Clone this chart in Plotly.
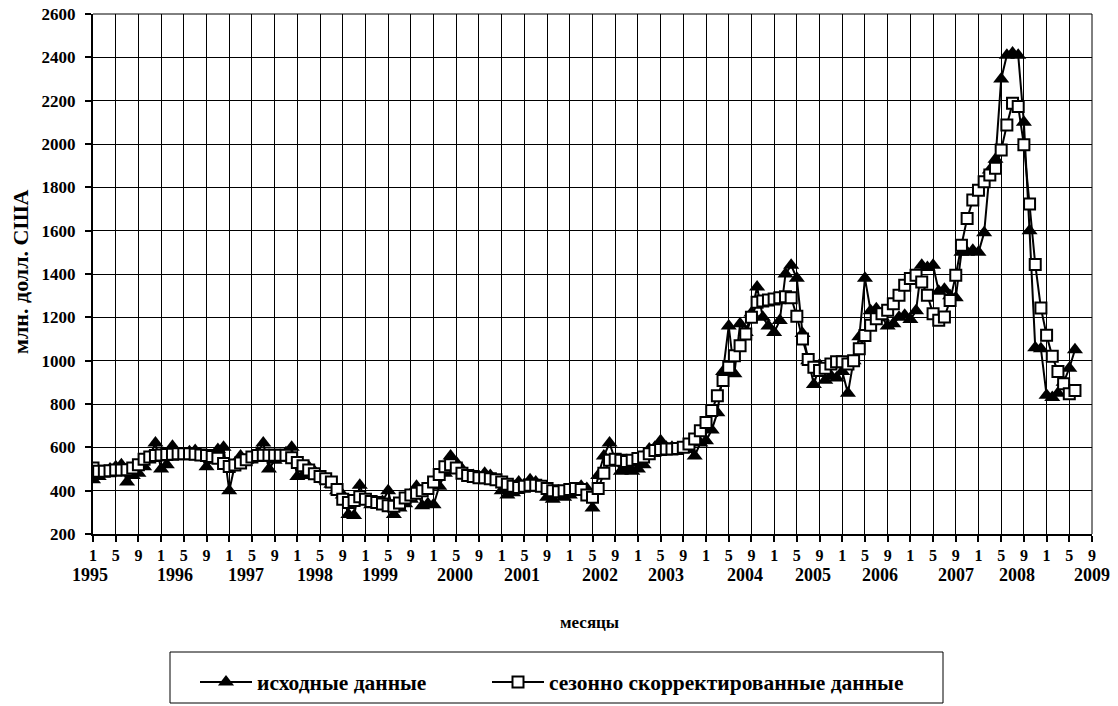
import plotly.graph_objects as go

# ---------------- data ----------------
years = list(range(1995, 2010))
month_ticks = ["1", "5", "9"]

# monthly values, Jan 1995 .. Jun 2009 (млн. долл. США)
original = [
    450, 465, 480, 500, 510, 520, 440, 470, 480, 510, 560, 620,      # 1995
    500, 520, 605, 560, 570, 580, 585, 560, 510, 540, 590, 600,      # 1996
    400, 520, 560, 540, 555, 575, 620, 500, 540, 560, 575, 600,      # 1997
    465, 470, 510, 490, 465, 450, 430, 400, 380, 290, 285, 425,      # 1998
    350, 335, 340, 350, 400, 290, 320, 340, 360, 420, 330, 340,      # 1999
    335, 420, 480, 560, 530, 500, 470, 470, 460, 480, 470, 450,      # 2000
    400, 380, 390, 440, 430, 450, 440, 420, 370, 360, 380, 370,      # 2001
    380, 400, 420, 410, 320, 470, 560, 620, 540, 490, 500, 490,      # 2002
    500, 520, 592, 600, 630, 600, 600, 590, 600, 590, 560, 620,      # 2003
    630, 680, 760, 950, 1160, 940, 1170, 1130, 1220, 1340, 1200, 1160,  # 2004
    1130, 1185, 1400, 1440, 1380, 1125, 1000, 890, 980, 910, 930, 920,  # 2005
    950, 850, 1000, 1110, 1380, 1230, 1240, 1200, 1160, 1170, 1200, 1210,  # 2006
    1190, 1230, 1440, 1430, 1440, 1320, 1330, 1300, 1290, 1500, 1500, 1510,  # 2007
    1500, 1590, 1880, 1930, 2300, 2410, 2420, 2410, 2100, 1600, 1060, 1055,  # 2008
    840, 830, 850, 900, 965, 1050,                                    # 2009
]

adjusted = [
    505, 490, 490, 492, 495, 495, 497, 505, 520, 545, 555, 562,      # 1995
    565, 567, 568, 570, 570, 570, 568, 565, 562, 558, 550, 525,      # 1996
    512, 518, 528, 543, 555, 562, 563, 563, 563, 563, 563, 552,      # 1997
    530, 515, 495, 478, 465, 455, 440, 405, 360, 345, 355, 372,      # 1998
    360, 350, 345, 338, 330, 328, 343, 366, 380, 388, 400, 410,      # 1999
    440, 475, 510, 520, 505, 480, 470, 465, 460, 460, 455, 450,      # 2000
    440, 430, 420, 415, 420, 425, 425, 420, 410, 400, 395, 400,      # 2001
    405, 410, 405, 380, 370, 410, 480, 540, 545, 540, 535, 540,      # 2002
    548, 555, 570, 585, 590, 592, 592, 595, 600, 615, 638, 677,      # 2003
    715, 770, 838, 908, 970, 1023, 1069, 1123, 1200, 1270, 1275, 1280,  # 2004
    1285, 1290, 1295, 1290, 1205, 1100, 1005, 970, 955, 965, 985, 995,  # 2005
    995, 985, 1000, 1055, 1116, 1163, 1194, 1217, 1233, 1263, 1302, 1348,  # 2006
    1379, 1394, 1363, 1302, 1217, 1186, 1201, 1278, 1394, 1533, 1656, 1741,  # 2007
    1787, 1826, 1857, 1888, 1972, 2088, 2188, 2173, 1996, 1723, 1444, 1243,  # 2008
    1117, 1020, 950, 893, 847, 862,                                   # 2009
]

# where each year caption sits along the month axis (as printed in the original)
year_label_pos = [-0.5, 14.4, 26.9, 39.1, 50.6, 63.8, 75.6, 89.3, 101.0,
                  114.9, 126.9, 138.7, 152.1, 162.8, 176.0]

series_names = ["исходные данные", "сезонно скорректированные данные"]
y_title = "млн. долл. США"
x_title = "месяцы"

# ---------------- figure ----------------
FONT = "Times New Roman"
x = list(range(len(original)))
tickvals = list(range(0, 12 * (len(years) - 1) + 9, 4))
ticktext = month_ticks * len(years)
x_max = tickvals[-1]
y_min, y_max = 200, 2600

W, H = 1118, 706
# plot area in page pixels
L, R, T, B = 93, 1092, 14, 534
pw, ph = R - L, B - T


def px_x(p):
    return (p - L) / pw


def px_y(p):
    return (B - p) / ph


fig = go.Figure()
fig.add_trace(go.Scatter(
    x=x, y=original, mode="lines+markers", name=series_names[0],
    line=dict(color="black", width=2),
    marker=dict(symbol="triangle-up", size=14, color="black"),
    legend="legend",
))
fig.add_trace(go.Scatter(
    x=x, y=adjusted, mode="lines+markers", name=series_names[1],
    line=dict(color="black", width=2),
    marker=dict(symbol="square", size=11, color="white",
                line=dict(color="black", width=2)),
    legend="legend2",
))

bold = dict(family=FONT, color="black", weight="bold")

annotations = []
for yr, pos in zip(years, year_label_pos):
    annotations.append(dict(
        x=pos / x_max, xref="paper", y=px_y(575), yref="paper", text=str(yr),
        showarrow=False, xanchor="center", yanchor="middle",
        font=dict(size=18, **bold)))
annotations.append(dict(
    x=px_x(589), xref="paper", y=px_y(622), yref="paper", text=x_title,
    showarrow=False, xanchor="center", yanchor="middle",
    font=dict(size=17, **bold)))
annotations.append(dict(
    x=px_x(20), xref="paper", y=px_y(272), yref="paper", text=y_title,
    textangle=-90, showarrow=False, xanchor="center", yanchor="middle",
    font=dict(size=22, **bold)))

shapes = [
    # top and right border of the plotting area
    dict(type="line", xref="paper", yref="paper", x0=0, x1=1, y0=1, y1=1,
         line=dict(color="black", width=1)),
    dict(type="line", xref="paper", yref="paper", x0=1, x1=1, y0=0, y1=1,
         line=dict(color="black", width=1)),
    # legend frame
    dict(type="rect", xref="paper", yref="paper",
         x0=px_x(170), x1=px_x(943), y0=px_y(703), y1=px_y(652),
         line=dict(color="black", width=1)),
]

legend_common = dict(
    orientation="h", yanchor="middle", xanchor="left",
    bgcolor="rgba(0,0,0,0)", borderwidth=0, itemwidth=52,
    font=dict(size=21.5, **bold), itemclick=False, itemdoubleclick=False,
)

fig.update_layout(
    width=W, height=H,
    margin=dict(l=L, r=W - R, t=T, b=H - B, pad=0, autoexpand=False),
    paper_bgcolor="white", plot_bgcolor="white",
    font=dict(family=FONT, color="black"),
    showlegend=True,
    legend=dict(x=px_x(195), y=px_y(682), **legend_common),
    legend2=dict(x=px_x(487), y=px_y(682), **legend_common),
    annotations=annotations,
    shapes=shapes,
)

fig.update_xaxes(
    range=[0, x_max], tickmode="array", tickvals=tickvals, ticktext=ticktext,
    showgrid=True, gridcolor="black", gridwidth=1,
    showline=True, linecolor="black", linewidth=2,
    ticks="outside", ticklen=6, tickwidth=2, tickcolor="black",
    tickfont=dict(size=16, **bold), ticklabeloverflow="allow",
    zeroline=False, fixedrange=True,
)
fig.update_yaxes(
    range=[y_min, y_max], tickmode="linear", tick0=y_min, dtick=200,
    showgrid=True, gridcolor="black", gridwidth=1,
    showline=True, linecolor="black", linewidth=2,
    ticks="outside", ticklen=6, tickwidth=2, tickcolor="black",
    tickfont=dict(size=17, **bold), ticklabeloverflow="allow",
    ticklabelstandoff=6,
    zeroline=False, fixedrange=True,
)

# remove the browser's default 8px page margin so the figure sits at (0, 0)
fig.write_html(
    "out.html",
    config=dict(displayModeBar=False),
    post_script="document.body.style.margin='0';document.body.style.overflow='hidden';",
)
